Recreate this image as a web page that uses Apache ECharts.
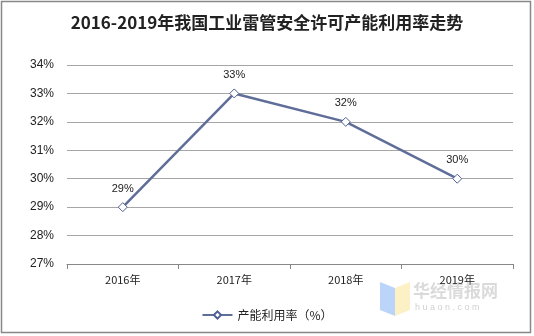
<!DOCTYPE html>
<html><head><meta charset="utf-8">
<script src="https://cdn.jsdelivr.net/npm/echarts@6/dist/echarts.min.js"></script>
<style>html,body{margin:0;padding:0;background:#fff}#c{width:534px;height:336px}</style>
</head><body><div id="c"></div>
<script>
const categories = ['2016年','2017年','2018年','2019年'];
const values = [29, 33, 32, 30];
const seriesName = '产能利用率（%）';
const titleText = '2016-2019年我国工业雷管安全许可产能利用率走势';
const chart = echarts.init(document.getElementById('c'), null, {renderer:'canvas'});
chart.setOption({
  animation:false,
  backgroundColor:'#fff',
  title:{text:titleText,left:'center',top:9,textStyle:{fontFamily:'"Noto Sans CJK SC"',fontWeight:'bold',fontSize:17,color:'#222'}},
  graphic:[
    {type:'rect',shape:{x:1.5,y:1.5,width:529,height:331},style:{fill:'none',stroke:'#888',lineWidth:1.5},silent:true},
    {type:'polygon',shape:{points:[[380,282],[395,288],[395,316],[380,310]]},style:{fill:'rgba(120,170,245,0.5)'},silent:true},
    {type:'polygon',shape:{points:[[395,288],[410,282],[410,310],[395,316]]},style:{fill:'rgba(250,225,140,0.5)'},silent:true},
    {type:'text',left:413,top:282,style:{text:'华经情报网',font:'bold 17px "Noto Sans CJK SC"',fill:'rgba(150,150,150,0.35)'}},
    {type:'text',left:415,top:303,style:{text:'h u a o n . c o m',font:'9px Arial',fill:'rgba(150,150,150,0.45)'}}
  ],
  legend:{bottom:10,left:'center',itemWidth:30,itemHeight:9,itemGap:4,textStyle:{fontFamily:'"Noto Sans CJK SC"',fontSize:12,color:'#222'},data:[seriesName]},
  grid:{left:67,right:21,top:65,bottom:72},
  xAxis:{type:'category',data:categories,boundaryGap:true,
    axisLine:{lineStyle:{color:'#888'}},axisTick:{show:true,length:5,lineStyle:{color:'#888'}},
    axisLabel:{color:'#222',fontSize:11,margin:10,fontFamily:'"Noto Sans CJK SC"'}},
  yAxis:{type:'value',min:27,max:34,interval:1,
    axisLine:{show:false},axisTick:{show:false},
    axisLabel:{formatter:'{value}%',color:'#222',fontSize:12,margin:13,fontFamily:'Arial'},
    splitLine:{lineStyle:{color:'#a6a6a6'}}},
  series:[{name:seriesName,type:'line',data:values,symbol:'diamond',symbolSize:9,
    lineStyle:{color:'#5f6e99',width:2.5},
    itemStyle:{color:'#fff',borderColor:'#4e5f95',borderWidth:1},
    label:{show:true,position:'top',distance:8,formatter:'{c}%',color:'#222',fontSize:11,fontFamily:'Arial'}}]
});
</script></body></html>
